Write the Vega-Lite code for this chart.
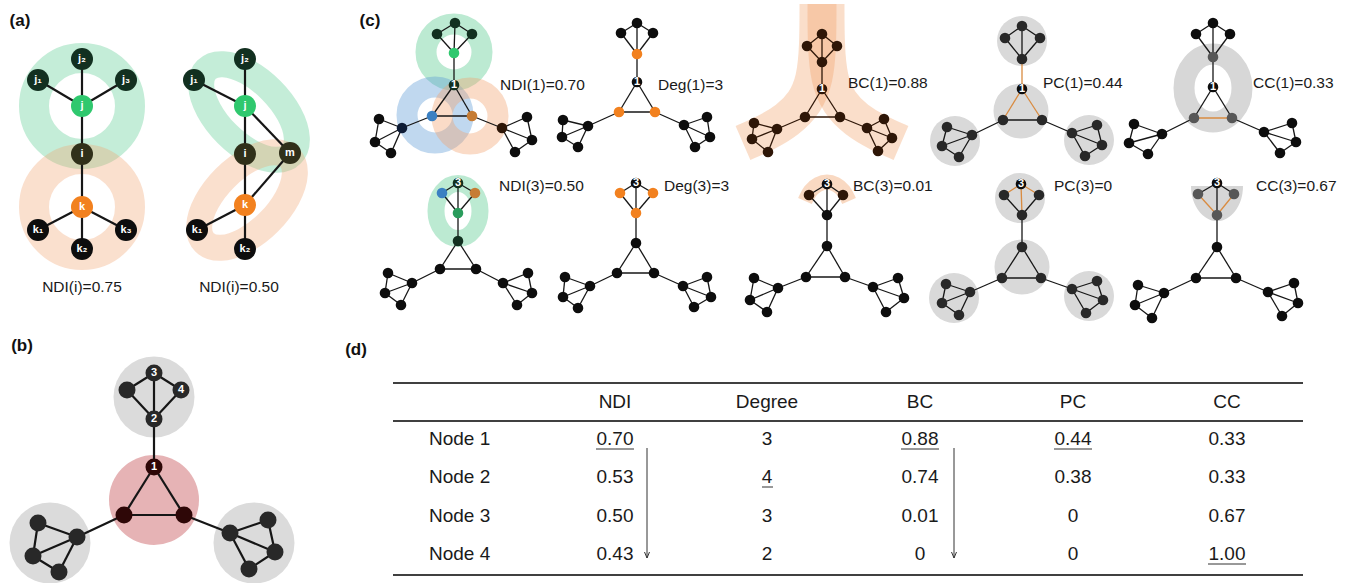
{
"$schema":"https://vega.github.io/schema/vega-lite/v6.json",
"width":1352,"height":583,
"autosize":"none",
"padding":0,
"background":"#ffffff",
"config":{"view":{"stroke":null},"text":{"font":"Liberation Sans"}},
"datasets":{
"nodes":[
{"id":"a1.j2","p":"a","x":82,"y":59,"c":"dg","lab":"j₂"},
{"id":"a1.j1","p":"a","x":38,"y":80,"c":"dg","lab":"j₁"},
{"id":"a1.j3","p":"a","x":126,"y":80,"c":"dg","lab":"j₃"},
{"id":"a1.j","p":"a","x":82,"y":106,"c":"g","lab":"j"},
{"id":"a1.i","p":"a","x":82,"y":154,"c":"ol","lab":"i"},
{"id":"a1.k","p":"a","x":82,"y":207,"c":"o","lab":"k"},
{"id":"a1.k1","p":"a","x":38,"y":230,"c":"k","lab":"k₁"},
{"id":"a1.k2","p":"a","x":82,"y":249,"c":"k","lab":"k₂"},
{"id":"a1.k3","p":"a","x":126,"y":230,"c":"k","lab":"k₃"},
{"id":"a2.j2","p":"a","x":245,"y":59,"c":"dg","lab":"j₂"},
{"id":"a2.j1","p":"a","x":194,"y":80,"c":"dg","lab":"j₁"},
{"id":"a2.j","p":"a","x":245,"y":106,"c":"g","lab":"j"},
{"id":"a2.i","p":"a","x":245,"y":154,"c":"ol","lab":"i"},
{"id":"a2.m","p":"a","x":290,"y":153,"c":"ol","lab":"m"},
{"id":"a2.k","p":"a","x":245,"y":205,"c":"o","lab":"k"},
{"id":"a2.k1","p":"a","x":197,"y":230,"c":"k","lab":"k₁"},
{"id":"a2.k2","p":"a","x":245,"y":249,"c":"k","lab":"k₂"},
{"id":"b.3","p":"b","x":154,"y":373,"c":"gr","lab":"3"},
{"id":"b.4","p":"b","x":181,"y":390,"c":"gr","lab":"4"},
{"id":"b.t","p":"b","x":127,"y":390,"c":"gr"},
{"id":"b.2","p":"b","x":154,"y":419,"c":"gr","lab":"2"},
{"id":"b.1","p":"b","x":154,"y":467,"c":"mr","lab":"1"},
{"id":"b.L","p":"b","x":124,"y":515,"c":"mr"},
{"id":"b.R","p":"b","x":184,"y":515,"c":"mr"},
{"id":"b.lh","p":"b","x":77,"y":537,"c":"gr"},
{"id":"b.lt","p":"b","x":38,"y":523,"c":"gr"},
{"id":"b.ll","p":"b","x":33,"y":556,"c":"gr"},
{"id":"b.lb","p":"b","x":59,"y":572,"c":"gr"},
{"id":"b.rh","p":"b","x":230,"y":533,"c":"gr"},
{"id":"b.rt","p":"b","x":268,"y":520,"c":"gr"},
{"id":"b.rr","p":"b","x":275,"y":552,"c":"gr"},
{"id":"b.rb","p":"b","x":249,"y":569,"c":"gr"},
{"id":"g1.3","p":"c","x":455,"y":23,"c":"dg"},
{"id":"g1.t","p":"c","x":437,"y":34,"c":"dg"},
{"id":"g1.4","p":"c","x":472,"y":34,"c":"dg"},
{"id":"g1.2","p":"c","x":454,"y":53,"c":"g"},
{"id":"g1.1","p":"c","x":454,"y":85,"c":"dg","lab":"1"},
{"id":"g1.L","p":"c","x":432,"y":116,"c":"bl"},
{"id":"g1.R","p":"c","x":472,"y":116,"c":"bo"},
{"id":"g1.lh","p":"c","x":402,"y":128,"c":"nv"},
{"id":"g1.lt","p":"c","x":379,"y":119,"c":"k"},
{"id":"g1.ll","p":"c","x":375,"y":142,"c":"k"},
{"id":"g1.lb","p":"c","x":391,"y":153,"c":"k"},
{"id":"g1.rh","p":"c","x":502,"y":128,"c":"br"},
{"id":"g1.rt","p":"c","x":527,"y":117,"c":"k"},
{"id":"g1.rr","p":"c","x":532,"y":140,"c":"k"},
{"id":"g1.rb","p":"c","x":515,"y":152,"c":"k"},
{"id":"g2.3","p":"c","x":637,"y":23,"c":"k"},
{"id":"g2.t","p":"c","x":621,"y":33,"c":"k"},
{"id":"g2.4","p":"c","x":653,"y":33,"c":"k"},
{"id":"g2.2","p":"c","x":637,"y":54,"c":"o"},
{"id":"g2.1","p":"c","x":637,"y":82,"c":"k","lab":"1"},
{"id":"g2.L","p":"c","x":619,"y":112,"c":"o"},
{"id":"g2.R","p":"c","x":655,"y":112,"c":"o"},
{"id":"g2.lh","p":"c","x":588,"y":126,"c":"k"},
{"id":"g2.lt","p":"c","x":563,"y":120,"c":"k"},
{"id":"g2.ll","p":"c","x":562,"y":137,"c":"k"},
{"id":"g2.lb","p":"c","x":578,"y":147,"c":"k"},
{"id":"g2.rh","p":"c","x":684,"y":125,"c":"k"},
{"id":"g2.rt","p":"c","x":707,"y":117,"c":"k"},
{"id":"g2.rr","p":"c","x":710,"y":137,"c":"k"},
{"id":"g2.rb","p":"c","x":695,"y":147,"c":"k"},
{"id":"g3.3","p":"c","x":822,"y":34,"c":"br"},
{"id":"g3.t","p":"c","x":807,"y":46,"c":"br"},
{"id":"g3.4","p":"c","x":837,"y":46,"c":"br"},
{"id":"g3.2","p":"c","x":822,"y":62,"c":"br"},
{"id":"g3.1","p":"c","x":822,"y":89,"c":"br","lab":"1"},
{"id":"g3.L","p":"c","x":805,"y":117,"c":"br"},
{"id":"g3.R","p":"c","x":840,"y":117,"c":"br"},
{"id":"g3.lh","p":"c","x":777,"y":129,"c":"br"},
{"id":"g3.lt","p":"c","x":754,"y":123,"c":"br"},
{"id":"g3.ll","p":"c","x":752,"y":139,"c":"br"},
{"id":"g3.lb","p":"c","x":768,"y":152,"c":"br"},
{"id":"g3.rh","p":"c","x":867,"y":128,"c":"br"},
{"id":"g3.rt","p":"c","x":884,"y":119,"c":"br"},
{"id":"g3.rr","p":"c","x":892,"y":138,"c":"br"},
{"id":"g3.rb","p":"c","x":878,"y":151,"c":"br"},
{"id":"g4.3","p":"c","x":1022,"y":26,"c":"gr"},
{"id":"g4.t","p":"c","x":1005,"y":38,"c":"gr"},
{"id":"g4.4","p":"c","x":1040,"y":38,"c":"gr"},
{"id":"g4.2","p":"c","x":1022,"y":59,"c":"gr"},
{"id":"g4.1","p":"c","x":1022,"y":89,"c":"k","lab":"1"},
{"id":"g4.L","p":"c","x":1003,"y":120,"c":"gr"},
{"id":"g4.R","p":"c","x":1042,"y":120,"c":"gr"},
{"id":"g4.lh","p":"c","x":972,"y":135,"c":"gr"},
{"id":"g4.lt","p":"c","x":947,"y":127,"c":"gr"},
{"id":"g4.ll","p":"c","x":942,"y":146,"c":"gr"},
{"id":"g4.lb","p":"c","x":959,"y":157,"c":"gr"},
{"id":"g4.rh","p":"c","x":1072,"y":133,"c":"gr"},
{"id":"g4.rt","p":"c","x":1097,"y":125,"c":"gr"},
{"id":"g4.rr","p":"c","x":1102,"y":145,"c":"gr"},
{"id":"g4.rb","p":"c","x":1085,"y":156,"c":"gr"},
{"id":"g5.3","p":"c","x":1213,"y":23,"c":"k"},
{"id":"g5.t","p":"c","x":1196,"y":34,"c":"k"},
{"id":"g5.4","p":"c","x":1230,"y":34,"c":"k"},
{"id":"g5.2","p":"c","x":1213,"y":57,"c":"mg"},
{"id":"g5.1","p":"c","x":1213,"y":87,"c":"k","lab":"1"},
{"id":"g5.L","p":"c","x":1194,"y":118,"c":"mg"},
{"id":"g5.R","p":"c","x":1232,"y":118,"c":"mg"},
{"id":"g5.lh","p":"c","x":1162,"y":134,"c":"k"},
{"id":"g5.lt","p":"c","x":1134,"y":124,"c":"k"},
{"id":"g5.ll","p":"c","x":1129,"y":143,"c":"k"},
{"id":"g5.lb","p":"c","x":1148,"y":154,"c":"k"},
{"id":"g5.rh","p":"c","x":1264,"y":132,"c":"k"},
{"id":"g5.rt","p":"c","x":1292,"y":123,"c":"k"},
{"id":"g5.rr","p":"c","x":1296,"y":142,"c":"k"},
{"id":"g5.rb","p":"c","x":1280,"y":153,"c":"k"},
{"id":"g6.3","p":"c","x":458,"y":183,"c":"dg","lab":"3"},
{"id":"g6.t","p":"c","x":442,"y":193,"c":"bl"},
{"id":"g6.4","p":"c","x":475,"y":193,"c":"bo"},
{"id":"g6.2","p":"c","x":458,"y":213,"c":"g2"},
{"id":"g6.1","p":"c","x":458,"y":241,"c":"dg"},
{"id":"g6.L","p":"c","x":440,"y":269,"c":"k"},
{"id":"g6.R","p":"c","x":476,"y":269,"c":"k"},
{"id":"g6.lh","p":"c","x":412,"y":283,"c":"k"},
{"id":"g6.lt","p":"c","x":388,"y":273,"c":"k"},
{"id":"g6.ll","p":"c","x":385,"y":293,"c":"k"},
{"id":"g6.lb","p":"c","x":401,"y":305,"c":"k"},
{"id":"g6.rh","p":"c","x":503,"y":283,"c":"k"},
{"id":"g6.rt","p":"c","x":528,"y":273,"c":"k"},
{"id":"g6.rr","p":"c","x":532,"y":293,"c":"k"},
{"id":"g6.rb","p":"c","x":517,"y":305,"c":"k"},
{"id":"g7.3","p":"c","x":636,"y":183,"c":"k","lab":"3"},
{"id":"g7.t","p":"c","x":620,"y":193,"c":"o"},
{"id":"g7.4","p":"c","x":653,"y":193,"c":"o"},
{"id":"g7.2","p":"c","x":636,"y":213,"c":"o"},
{"id":"g7.1","p":"c","x":636,"y":243,"c":"k"},
{"id":"g7.L","p":"c","x":617,"y":273,"c":"k"},
{"id":"g7.R","p":"c","x":654,"y":273,"c":"k"},
{"id":"g7.lh","p":"c","x":590,"y":286,"c":"k"},
{"id":"g7.lt","p":"c","x":565,"y":277,"c":"k"},
{"id":"g7.ll","p":"c","x":563,"y":297,"c":"k"},
{"id":"g7.lb","p":"c","x":578,"y":308,"c":"k"},
{"id":"g7.rh","p":"c","x":683,"y":286,"c":"k"},
{"id":"g7.rt","p":"c","x":707,"y":277,"c":"k"},
{"id":"g7.rr","p":"c","x":711,"y":297,"c":"k"},
{"id":"g7.rb","p":"c","x":694,"y":307,"c":"k"},
{"id":"g8.3","p":"c","x":827,"y":184,"c":"k","lab":"3"},
{"id":"g8.t","p":"c","x":809,"y":195,"c":"br"},
{"id":"g8.4","p":"c","x":843,"y":195,"c":"br"},
{"id":"g8.2","p":"c","x":827,"y":215,"c":"k"},
{"id":"g8.1","p":"c","x":827,"y":246,"c":"k"},
{"id":"g8.L","p":"c","x":806,"y":277,"c":"k"},
{"id":"g8.R","p":"c","x":845,"y":277,"c":"k"},
{"id":"g8.lh","p":"c","x":778,"y":288,"c":"k"},
{"id":"g8.lt","p":"c","x":754,"y":278,"c":"k"},
{"id":"g8.ll","p":"c","x":750,"y":300,"c":"k"},
{"id":"g8.lb","p":"c","x":767,"y":312,"c":"k"},
{"id":"g8.rh","p":"c","x":873,"y":287,"c":"k"},
{"id":"g8.rt","p":"c","x":898,"y":278,"c":"k"},
{"id":"g8.rr","p":"c","x":904,"y":298,"c":"k"},
{"id":"g8.rb","p":"c","x":886,"y":312,"c":"k"},
{"id":"g9.3","p":"c","x":1021,"y":184,"c":"k","lab":"3"},
{"id":"g9.t","p":"c","x":1004,"y":195,"c":"gr"},
{"id":"g9.4","p":"c","x":1039,"y":195,"c":"gr"},
{"id":"g9.2","p":"c","x":1022,"y":215,"c":"gr"},
{"id":"g9.1","p":"c","x":1022,"y":247,"c":"gr"},
{"id":"g9.L","p":"c","x":1002,"y":278,"c":"gr"},
{"id":"g9.R","p":"c","x":1041,"y":278,"c":"gr"},
{"id":"g9.lh","p":"c","x":970,"y":292,"c":"gr"},
{"id":"g9.lt","p":"c","x":946,"y":284,"c":"gr"},
{"id":"g9.ll","p":"c","x":942,"y":303,"c":"gr"},
{"id":"g9.lb","p":"c","x":959,"y":315,"c":"gr"},
{"id":"g9.rh","p":"c","x":1072,"y":289,"c":"gr"},
{"id":"g9.rt","p":"c","x":1097,"y":281,"c":"gr"},
{"id":"g9.rr","p":"c","x":1103,"y":300,"c":"gr"},
{"id":"g9.rb","p":"c","x":1086,"y":313,"c":"gr"},
{"id":"g10.3","p":"c","x":1217,"y":183,"c":"k","lab":"3"},
{"id":"g10.t","p":"c","x":1198,"y":194,"c":"mg"},
{"id":"g10.4","p":"c","x":1234,"y":194,"c":"mg"},
{"id":"g10.2","p":"c","x":1217,"y":215,"c":"mg"},
{"id":"g10.1","p":"c","x":1217,"y":247,"c":"k"},
{"id":"g10.L","p":"c","x":1196,"y":278,"c":"k"},
{"id":"g10.R","p":"c","x":1236,"y":278,"c":"k"},
{"id":"g10.lh","p":"c","x":1164,"y":293,"c":"k"},
{"id":"g10.lt","p":"c","x":1138,"y":285,"c":"k"},
{"id":"g10.ll","p":"c","x":1135,"y":305,"c":"k"},
{"id":"g10.lb","p":"c","x":1152,"y":318,"c":"k"},
{"id":"g10.rh","p":"c","x":1268,"y":292,"c":"k"},
{"id":"g10.rt","p":"c","x":1294,"y":283,"c":"k"},
{"id":"g10.rr","p":"c","x":1298,"y":303,"c":"k"},
{"id":"g10.rb","p":"c","x":1282,"y":316,"c":"k"}
],
"edges":[
{"a":"a1.j","b":"a1.j1"},{"a":"a1.j","b":"a1.j2"},{"a":"a1.j","b":"a1.j3"},{"a":"a1.j","b":"a1.i"},{"a":"a1.i","b":"a1.k"},{"a":"a1.k","b":"a1.k1"},{"a":"a1.k","b":"a1.k2"},{"a":"a1.k","b":"a1.k3"},
{"a":"a2.j","b":"a2.j1"},{"a":"a2.j","b":"a2.j2"},{"a":"a2.j","b":"a2.i"},{"a":"a2.j","b":"a2.m"},{"a":"a2.i","b":"a2.k"},{"a":"a2.m","b":"a2.k"},{"a":"a2.k","b":"a2.k1"},{"a":"a2.k","b":"a2.k2"},
{"a":"b.3","b":"b.t"},{"a":"b.3","b":"b.4"},{"a":"b.3","b":"b.2"},{"a":"b.t","b":"b.2"},{"a":"b.4","b":"b.2"},{"a":"b.2","b":"b.1"},{"a":"b.1","b":"b.L"},{"a":"b.1","b":"b.R"},{"a":"b.L","b":"b.R"},{"a":"b.L","b":"b.lh"},{"a":"b.R","b":"b.rh"},{"a":"b.lh","b":"b.lt"},{"a":"b.lh","b":"b.ll"},{"a":"b.lh","b":"b.lb"},{"a":"b.lt","b":"b.ll"},{"a":"b.ll","b":"b.lb"},{"a":"b.rh","b":"b.rt"},{"a":"b.rh","b":"b.rr"},{"a":"b.rh","b":"b.rb"},{"a":"b.rt","b":"b.rr"},{"a":"b.rr","b":"b.rb"},
{"a":"g1.3","b":"g1.t"},{"a":"g1.3","b":"g1.4"},{"a":"g1.3","b":"g1.2"},{"a":"g1.t","b":"g1.2"},{"a":"g1.4","b":"g1.2"},{"a":"g1.2","b":"g1.1"},{"a":"g1.1","b":"g1.L"},{"a":"g1.1","b":"g1.R"},{"a":"g1.L","b":"g1.R"},{"a":"g1.L","b":"g1.lh"},{"a":"g1.R","b":"g1.rh"},{"a":"g1.lh","b":"g1.lt"},{"a":"g1.lh","b":"g1.ll"},{"a":"g1.lh","b":"g1.lb"},{"a":"g1.lt","b":"g1.ll"},{"a":"g1.ll","b":"g1.lb"},{"a":"g1.rh","b":"g1.rt"},{"a":"g1.rh","b":"g1.rr"},{"a":"g1.rh","b":"g1.rb"},{"a":"g1.rt","b":"g1.rr"},{"a":"g1.rr","b":"g1.rb"},
{"a":"g2.3","b":"g2.t"},{"a":"g2.3","b":"g2.4"},{"a":"g2.3","b":"g2.2"},{"a":"g2.t","b":"g2.2"},{"a":"g2.4","b":"g2.2"},{"a":"g2.2","b":"g2.1"},{"a":"g2.1","b":"g2.L"},{"a":"g2.1","b":"g2.R"},{"a":"g2.L","b":"g2.R"},{"a":"g2.L","b":"g2.lh"},{"a":"g2.R","b":"g2.rh"},{"a":"g2.lh","b":"g2.lt"},{"a":"g2.lh","b":"g2.ll"},{"a":"g2.lh","b":"g2.lb"},{"a":"g2.lt","b":"g2.ll"},{"a":"g2.ll","b":"g2.lb"},{"a":"g2.rh","b":"g2.rt"},{"a":"g2.rh","b":"g2.rr"},{"a":"g2.rh","b":"g2.rb"},{"a":"g2.rt","b":"g2.rr"},{"a":"g2.rr","b":"g2.rb"},
{"a":"g3.3","b":"g3.t","h":"b"},{"a":"g3.3","b":"g3.4","h":"b"},{"a":"g3.3","b":"g3.2","h":"b"},{"a":"g3.t","b":"g3.2","h":"b"},{"a":"g3.4","b":"g3.2","h":"b"},{"a":"g3.2","b":"g3.1","h":"b"},{"a":"g3.1","b":"g3.L","h":"b"},{"a":"g3.1","b":"g3.R","h":"b"},{"a":"g3.L","b":"g3.R","h":"b"},{"a":"g3.L","b":"g3.lh","h":"b"},{"a":"g3.R","b":"g3.rh","h":"b"},{"a":"g3.lh","b":"g3.lt","h":"b"},{"a":"g3.lh","b":"g3.ll","h":"b"},{"a":"g3.lh","b":"g3.lb","h":"b"},{"a":"g3.lt","b":"g3.ll","h":"b"},{"a":"g3.ll","b":"g3.lb","h":"b"},{"a":"g3.rh","b":"g3.rt","h":"b"},{"a":"g3.rh","b":"g3.rr","h":"b"},{"a":"g3.rh","b":"g3.rb","h":"b"},{"a":"g3.rt","b":"g3.rr","h":"b"},{"a":"g3.rr","b":"g3.rb","h":"b"},
{"a":"g4.3","b":"g4.t"},{"a":"g4.3","b":"g4.4"},{"a":"g4.3","b":"g4.2"},{"a":"g4.t","b":"g4.2"},{"a":"g4.4","b":"g4.2"},{"a":"g4.2","b":"g4.1","h":"o"},{"a":"g4.1","b":"g4.L","h":"o"},{"a":"g4.1","b":"g4.R","h":"o"},{"a":"g4.L","b":"g4.R"},{"a":"g4.L","b":"g4.lh"},{"a":"g4.R","b":"g4.rh"},{"a":"g4.lh","b":"g4.lt"},{"a":"g4.lh","b":"g4.ll"},{"a":"g4.lh","b":"g4.lb"},{"a":"g4.lt","b":"g4.ll"},{"a":"g4.ll","b":"g4.lb"},{"a":"g4.rh","b":"g4.rt"},{"a":"g4.rh","b":"g4.rr"},{"a":"g4.rh","b":"g4.rb"},{"a":"g4.rt","b":"g4.rr"},{"a":"g4.rr","b":"g4.rb"},
{"a":"g5.3","b":"g5.t"},{"a":"g5.3","b":"g5.4"},{"a":"g5.3","b":"g5.2"},{"a":"g5.t","b":"g5.2"},{"a":"g5.4","b":"g5.2"},{"a":"g5.2","b":"g5.1"},{"a":"g5.1","b":"g5.L"},{"a":"g5.1","b":"g5.R"},{"a":"g5.L","b":"g5.R","h":"o"},{"a":"g5.L","b":"g5.lh"},{"a":"g5.R","b":"g5.rh"},{"a":"g5.lh","b":"g5.lt"},{"a":"g5.lh","b":"g5.ll"},{"a":"g5.lh","b":"g5.lb"},{"a":"g5.lt","b":"g5.ll"},{"a":"g5.ll","b":"g5.lb"},{"a":"g5.rh","b":"g5.rt"},{"a":"g5.rh","b":"g5.rr"},{"a":"g5.rh","b":"g5.rb"},{"a":"g5.rt","b":"g5.rr"},{"a":"g5.rr","b":"g5.rb"},
{"a":"g6.3","b":"g6.t"},{"a":"g6.3","b":"g6.4"},{"a":"g6.3","b":"g6.2"},{"a":"g6.t","b":"g6.2"},{"a":"g6.4","b":"g6.2"},{"a":"g6.2","b":"g6.1"},{"a":"g6.1","b":"g6.L"},{"a":"g6.1","b":"g6.R"},{"a":"g6.L","b":"g6.R"},{"a":"g6.L","b":"g6.lh"},{"a":"g6.R","b":"g6.rh"},{"a":"g6.lh","b":"g6.lt"},{"a":"g6.lh","b":"g6.ll"},{"a":"g6.lh","b":"g6.lb"},{"a":"g6.lt","b":"g6.ll"},{"a":"g6.ll","b":"g6.lb"},{"a":"g6.rh","b":"g6.rt"},{"a":"g6.rh","b":"g6.rr"},{"a":"g6.rh","b":"g6.rb"},{"a":"g6.rt","b":"g6.rr"},{"a":"g6.rr","b":"g6.rb"},
{"a":"g7.3","b":"g7.t"},{"a":"g7.3","b":"g7.4"},{"a":"g7.3","b":"g7.2"},{"a":"g7.t","b":"g7.2"},{"a":"g7.4","b":"g7.2"},{"a":"g7.2","b":"g7.1"},{"a":"g7.1","b":"g7.L"},{"a":"g7.1","b":"g7.R"},{"a":"g7.L","b":"g7.R"},{"a":"g7.L","b":"g7.lh"},{"a":"g7.R","b":"g7.rh"},{"a":"g7.lh","b":"g7.lt"},{"a":"g7.lh","b":"g7.ll"},{"a":"g7.lh","b":"g7.lb"},{"a":"g7.lt","b":"g7.ll"},{"a":"g7.ll","b":"g7.lb"},{"a":"g7.rh","b":"g7.rt"},{"a":"g7.rh","b":"g7.rr"},{"a":"g7.rh","b":"g7.rb"},{"a":"g7.rt","b":"g7.rr"},{"a":"g7.rr","b":"g7.rb"},
{"a":"g8.3","b":"g8.t"},{"a":"g8.3","b":"g8.4"},{"a":"g8.3","b":"g8.2"},{"a":"g8.t","b":"g8.2"},{"a":"g8.4","b":"g8.2"},{"a":"g8.2","b":"g8.1"},{"a":"g8.1","b":"g8.L"},{"a":"g8.1","b":"g8.R"},{"a":"g8.L","b":"g8.R"},{"a":"g8.L","b":"g8.lh"},{"a":"g8.R","b":"g8.rh"},{"a":"g8.lh","b":"g8.lt"},{"a":"g8.lh","b":"g8.ll"},{"a":"g8.lh","b":"g8.lb"},{"a":"g8.lt","b":"g8.ll"},{"a":"g8.ll","b":"g8.lb"},{"a":"g8.rh","b":"g8.rt"},{"a":"g8.rh","b":"g8.rr"},{"a":"g8.rh","b":"g8.rb"},{"a":"g8.rt","b":"g8.rr"},{"a":"g8.rr","b":"g8.rb"},
{"a":"g9.3","b":"g9.t","h":"o"},{"a":"g9.3","b":"g9.4","h":"o"},{"a":"g9.3","b":"g9.2","h":"o"},{"a":"g9.t","b":"g9.2"},{"a":"g9.4","b":"g9.2"},{"a":"g9.2","b":"g9.1"},{"a":"g9.1","b":"g9.L"},{"a":"g9.1","b":"g9.R"},{"a":"g9.L","b":"g9.R"},{"a":"g9.L","b":"g9.lh"},{"a":"g9.R","b":"g9.rh"},{"a":"g9.lh","b":"g9.lt"},{"a":"g9.lh","b":"g9.ll"},{"a":"g9.lh","b":"g9.lb"},{"a":"g9.lt","b":"g9.ll"},{"a":"g9.ll","b":"g9.lb"},{"a":"g9.rh","b":"g9.rt"},{"a":"g9.rh","b":"g9.rr"},{"a":"g9.rh","b":"g9.rb"},{"a":"g9.rt","b":"g9.rr"},{"a":"g9.rr","b":"g9.rb"},
{"a":"g10.3","b":"g10.t"},{"a":"g10.3","b":"g10.4"},{"a":"g10.3","b":"g10.2"},{"a":"g10.t","b":"g10.2","h":"o"},{"a":"g10.4","b":"g10.2","h":"o"},{"a":"g10.2","b":"g10.1"},{"a":"g10.1","b":"g10.L"},{"a":"g10.1","b":"g10.R"},{"a":"g10.L","b":"g10.R"},{"a":"g10.L","b":"g10.lh"},{"a":"g10.R","b":"g10.rh"},{"a":"g10.lh","b":"g10.lt"},{"a":"g10.lh","b":"g10.ll"},{"a":"g10.lh","b":"g10.lb"},{"a":"g10.lt","b":"g10.ll"},{"a":"g10.ll","b":"g10.lb"},{"a":"g10.rh","b":"g10.rt"},{"a":"g10.rh","b":"g10.rr"},{"a":"g10.rh","b":"g10.rb"},{"a":"g10.rt","b":"g10.rr"},{"a":"g10.rr","b":"g10.rb"}
],
"halo":[
{"k":"bd","x":154,"y":397},{"k":"bd","x":50,"y":543},{"k":"bd","x":254,"y":543},
{"k":"pk","x":154,"y":500},
{"k":"cd","x":1022,"y":41},{"k":"cd","x":955,"y":141},{"k":"cd","x":1089,"y":140},{"k":"cd","x":1020,"y":198},{"k":"cd","x":954,"y":298},{"k":"cd","x":1089,"y":296},
{"k":"ct","x":1021,"y":111},{"k":"ct","x":1022,"y":267},
{"k":"sh","x":1217,"y":186},
{"k":"ge","x":1213,"y":88},
{"k":"ar","x":82,"y":106,"col":"green"},{"k":"ar","x":82,"y":207,"col":"orange"},
{"k":"eg","x":249,"y":112},{"k":"eo","x":247,"y":200},
{"k":"cr","x":454,"y":52,"col":"green"},{"k":"cr","x":435,"y":115,"col":"blue"},{"k":"cr","x":470,"y":116,"col":"orange"},
{"k":"e6","x":458,"y":211}
],
"bands":[
{"band":"A","o":1,"x":818,"y":4},{"band":"A","o":2,"x":818,"y":45},{"band":"A","o":3,"x":815,"y":80},{"band":"A","o":4,"x":805,"y":103},{"band":"A","o":5,"x":788,"y":120},{"band":"A","o":6,"x":766,"y":133},{"band":"A","o":7,"x":743,"y":143},
{"band":"B","o":1,"x":826,"y":4},{"band":"B","o":2,"x":826,"y":45},{"band":"B","o":3,"x":829,"y":80},{"band":"B","o":4,"x":839,"y":103},{"band":"B","o":5,"x":856,"y":120},{"band":"B","o":6,"x":878,"y":133},{"band":"B","o":7,"x":901,"y":143},
{"band":"C","o":1,"x":805,"y":201},{"band":"C","o":2,"x":810,"y":190},{"band":"C","o":3,"x":818,"y":184},{"band":"C","o":4,"x":827,"y":181},{"band":"C","o":5,"x":836,"y":184},{"band":"C","o":6,"x":844,"y":190},{"band":"C","o":7,"x":849,"y":201}
],
"texts":[
{"k":"panel","x":20,"y":21,"t":"(a)"},{"k":"panel","x":22,"y":346,"t":"(b)"},{"k":"panel","x":370,"y":21,"t":"(c)"},{"k":"panel","x":356,"y":350,"t":"(d)"},
{"k":"lab","x":500,"y":85,"t":"NDI(1)=0.70"},{"k":"lab","x":658,"y":85,"t":"Deg(1)=3"},{"k":"lab","x":848,"y":83,"t":"BC(1)=0.88"},{"k":"lab","x":1043,"y":83,"t":"PC(1)=0.44"},{"k":"lab","x":1253,"y":83,"t":"CC(1)=0.33"},
{"k":"lab","x":499,"y":186,"t":"NDI(3)=0.50"},{"k":"lab","x":664,"y":186,"t":"Deg(3)=3"},{"k":"lab","x":853,"y":186,"t":"BC(3)=0.01"},{"k":"lab","x":1054,"y":186,"t":"PC(3)=0"},{"k":"lab","x":1256,"y":186,"t":"CC(3)=0.67"},
{"k":"cap","x":82,"y":287,"t":"NDI(i)=0.75"},{"k":"cap","x":239,"y":287,"t":"NDI(i)=0.50"},
{"k":"tc","x":615,"y":402,"t":"NDI"},{"k":"tc","x":767,"y":402,"t":"Degree"},{"k":"tc","x":920,"y":402,"t":"BC"},{"k":"tc","x":1073,"y":402,"t":"PC"},{"k":"tc","x":1227,"y":402,"t":"CC"},
{"k":"tn","x":429,"y":439,"t":"Node 1"},{"k":"tn","x":429,"y":477,"t":"Node 2"},{"k":"tn","x":429,"y":516,"t":"Node 3"},{"k":"tn","x":429,"y":554,"t":"Node 4"},
{"k":"tc","x":615,"y":439,"t":"0.70"},{"k":"tc","x":767,"y":439,"t":"3"},{"k":"tc","x":920,"y":439,"t":"0.88"},{"k":"tc","x":1073,"y":439,"t":"0.44"},{"k":"tc","x":1227,"y":439,"t":"0.33"},
{"k":"tc","x":615,"y":477,"t":"0.53"},{"k":"tc","x":767,"y":477,"t":"4"},{"k":"tc","x":920,"y":477,"t":"0.74"},{"k":"tc","x":1073,"y":477,"t":"0.38"},{"k":"tc","x":1227,"y":477,"t":"0.33"},
{"k":"tc","x":615,"y":516,"t":"0.50"},{"k":"tc","x":767,"y":516,"t":"3"},{"k":"tc","x":920,"y":516,"t":"0.01"},{"k":"tc","x":1073,"y":516,"t":"0"},{"k":"tc","x":1227,"y":516,"t":"0.67"},
{"k":"tc","x":615,"y":554,"t":"0.43"},{"k":"tc","x":767,"y":554,"t":"2"},{"k":"tc","x":920,"y":554,"t":"0"},{"k":"tc","x":1073,"y":554,"t":"0"},{"k":"tc","x":1227,"y":554,"t":"1.00"}
],
"tlines":[
{"x":393,"y":383,"x2":1303,"y2":383,"w":"t"},
{"x":393,"y":421,"x2":1303,"y2":421,"w":"t"},
{"x":393,"y":575,"x2":1303,"y2":575,"w":"t"},
{"x":596,"y":449,"x2":634,"y2":449,"w":"u"},
{"x":901,"y":449,"x2":939,"y2":449,"w":"u"},
{"x":1054,"y":449,"x2":1092,"y2":449,"w":"u"},
{"x":762,"y":487,"x2":773,"y2":487,"w":"u"},
{"x":1208,"y":564,"x2":1246,"y2":564,"w":"u"},
{"x":647,"y":448,"x2":647,"y2":558,"w":"u"},
{"x":954,"y":448,"x2":954,"y2":558,"w":"u"}
],
"heads":[{"x":647,"y":558},{"x":954,"y":558}]
},
"encoding":{
"x":{"field":"x","type":"quantitative","scale":{"domain":[0,1352],"nice":false,"zero":false},"axis":null},
"y":{"field":"y","type":"quantitative","scale":{"domain":[0,583],"nice":false,"zero":false,"reverse":true},"axis":null}
},
"layer":[
{"data":{"name":"halo"},"transform":[{"filter":"datum.k==='bd'"}],"mark":{"type":"point","shape":"circle","filled":true,"size":6561,"color":"#dbdbdb","opacity":1,"strokeWidth":0}},
{"data":{"name":"halo"},"transform":[{"filter":"datum.k==='pk'"}],"mark":{"type":"point","shape":"circle","filled":true,"size":8100,"color":"#e6b3b5","opacity":1,"strokeWidth":0}},
{"data":{"name":"halo"},"transform":[{"filter":"datum.k==='cd'"}],"mark":{"type":"point","shape":"circle","filled":true,"size":2500,"color":"#d9d9d9","opacity":1,"strokeWidth":0}},
{"data":{"name":"halo"},"transform":[{"filter":"datum.k==='ct'"}],"mark":{"type":"point","shape":"circle","filled":true,"size":3025,"color":"#d9d9d9","opacity":1,"strokeWidth":0}},
{"data":{"name":"halo"},"transform":[{"filter":"datum.k==='sh'"}],"mark":{"type":"point","shape":"M -1 0 L 1 0 A 1 1.35 0 0 1 -1 0 Z","filled":true,"size":2704,"color":"#d6d6d6","opacity":1,"strokeWidth":0}},
{"data":{"name":"halo"},"transform":[{"filter":"datum.k==='ge'"}],"mark":{"type":"point","shape":"M 0 -1 A 0.853 1 0 1 0 0 1 A 0.853 1 0 1 0 0 -1 Z","filled":false,"size":4624,"color":"#d7d7d7","opacity":1,"strokeWidth":21}},
{"data":{"name":"halo"},"transform":[{"filter":"datum.k==='ar'"}],"mark":{"type":"point","shape":"circle","filled":false,"size":9216,"opacity":0.33,"strokeWidth":30},
 "encoding":{"stroke":{"field":"col","type":"nominal","scale":{"domain":["green","orange","blue"],"range":["#50c98a","#f2a26e","#5b9ad6"]},"legend":null}}},
{"data":{"name":"halo"},"transform":[{"filter":"datum.k==='eg'"}],"mark":{"type":"point","shape":"M -0.7071 -0.7071 A 1 0.5167 45 1 0 0.7071 0.7071 A 1 0.5167 45 1 0 -0.7071 -0.7071 Z","filled":false,"size":14400,"color":"#50c98a","opacity":0.33,"strokeWidth":26}},
{"data":{"name":"halo"},"transform":[{"filter":"datum.k==='eo'"}],"mark":{"type":"point","shape":"M -0.7071 0.7071 A 1 0.5167 -45 1 0 0.7071 -0.7071 A 1 0.5167 -45 1 0 -0.7071 0.7071 Z","filled":false,"size":14400,"color":"#f2a26e","opacity":0.33,"strokeWidth":26}},
{"data":{"name":"halo"},"transform":[{"filter":"datum.k==='cr'"}],"mark":{"type":"point","shape":"circle","filled":false,"size":3136,"opacity":0.38,"strokeWidth":21},
 "encoding":{"stroke":{"field":"col","type":"nominal","scale":{"domain":["green","orange","blue"],"range":["#50c98a","#f2a26e","#5b9ad6"]},"legend":null}}},
{"data":{"name":"halo"},"transform":[{"filter":"datum.k==='e6'"}],"mark":{"type":"point","shape":"M 0 -1 A 0.8 1 0 1 0 0 1 A 0.8 1 0 1 0 0 -1 Z","filled":false,"size":3025,"color":"#50c98a","opacity":0.38,"strokeWidth":17}},
{"data":{"name":"bands"},"transform":[{"filter":"datum.band!=='C'"}],"mark":{"type":"line","interpolate":"basis","strokeWidth":37,"strokeCap":"butt","color":"#f0a066","opacity":0.35},
 "encoding":{"detail":{"field":"band","type":"nominal"},"order":{"field":"o","type":"quantitative"}}},
{"data":{"name":"bands"},"transform":[{"filter":"datum.band==='C'"}],"mark":{"type":"line","interpolate":"basis","strokeWidth":15,"strokeCap":"butt","color":"#f0a066","opacity":0.4},
 "encoding":{"detail":{"field":"band","type":"nominal"},"order":{"field":"o","type":"quantitative"}}},
{"data":{"name":"edges"},
 "transform":[
  {"lookup":"a","from":{"data":{"name":"nodes"},"key":"id","fields":["x","y","p"]},"as":["x","y","p"]},
  {"lookup":"b","from":{"data":{"name":"nodes"},"key":"id","fields":["x","y"]},"as":["x2","y2"]}
 ],
 "mark":{"type":"rule"},
 "encoding":{
  "x2":{"field":"x2"},"y2":{"field":"y2"},
  "color":{"condition":[{"test":"datum.h==='o'","value":"#d98b40"},{"test":"datum.h==='b'","value":"#2e1607"}],"value":"#161616"},
  "strokeWidth":{"condition":{"test":"datum.p==='c'","value":1.3},"value":2.2}
 }},
{"data":{"name":"nodes"},"mark":{"type":"circle","opacity":1,"strokeWidth":0},
 "encoding":{
  "fill":{"field":"c","type":"nominal","scale":{"domain":["k","dg","g","g2","o","ol","bl","bo","nv","br","gr","mr","mg"],"range":["#0d0d0d","#123020","#2fc86e","#2a9c5c","#f2811f","#30301a","#3b80c2","#c67c34","#0e1c36","#2e1607","#282828","#2e0707","#575757"]},"legend":null},
  "size":{"condition":[{"test":"datum.p==='a'","value":484},{"test":"datum.p==='b'","value":289}],"value":112}
 }},
{"data":{"name":"nodes"},"transform":[{"filter":"datum.lab"}],"mark":{"type":"text","align":"center","baseline":"middle","fontWeight":"bold","color":"#ffffff"},
 "encoding":{"text":{"field":"lab"},"fontSize":{"condition":[{"test":"datum.p==='a'","value":15},{"test":"datum.p==='b'","value":11}],"value":8}}},
{"data":{"name":"texts"},"transform":[{"filter":"datum.k==='panel'"}],"mark":{"type":"text","align":"center","baseline":"middle","fontWeight":"bold","fontSize":17,"color":"#111111"},"encoding":{"text":{"field":"t"}}},
{"data":{"name":"texts"},"transform":[{"filter":"datum.k==='lab'"}],"mark":{"type":"text","align":"left","baseline":"middle","fontSize":15.5,"color":"#1a1a1a"},"encoding":{"text":{"field":"t"}}},
{"data":{"name":"texts"},"transform":[{"filter":"datum.k==='cap'"}],"mark":{"type":"text","align":"center","baseline":"middle","fontSize":15.5,"color":"#1a1a1a"},"encoding":{"text":{"field":"t"}}},
{"data":{"name":"texts"},"transform":[{"filter":"datum.k==='tc'"}],"mark":{"type":"text","align":"center","baseline":"middle","fontSize":19,"color":"#1a1a1a"},"encoding":{"text":{"field":"t"}}},
{"data":{"name":"texts"},"transform":[{"filter":"datum.k==='tn'"}],"mark":{"type":"text","align":"left","baseline":"middle","fontSize":19,"color":"#1a1a1a"},"encoding":{"text":{"field":"t"}}},
{"data":{"name":"tlines"},"mark":{"type":"rule"},
 "encoding":{"x2":{"field":"x2"},"y2":{"field":"y2"},
  "color":{"condition":{"test":"datum.w==='t'","value":"#404040"},"value":"#333333"},
  "strokeWidth":{"condition":{"test":"datum.w==='t'","value":2},"value":1}}},
{"data":{"name":"heads"},"mark":{"type":"point","shape":"M -1 -2.4 L 0 0 L 1 -2.4","filled":false,"size":25,"color":"#333333","opacity":1,"strokeWidth":1}}
]
}
